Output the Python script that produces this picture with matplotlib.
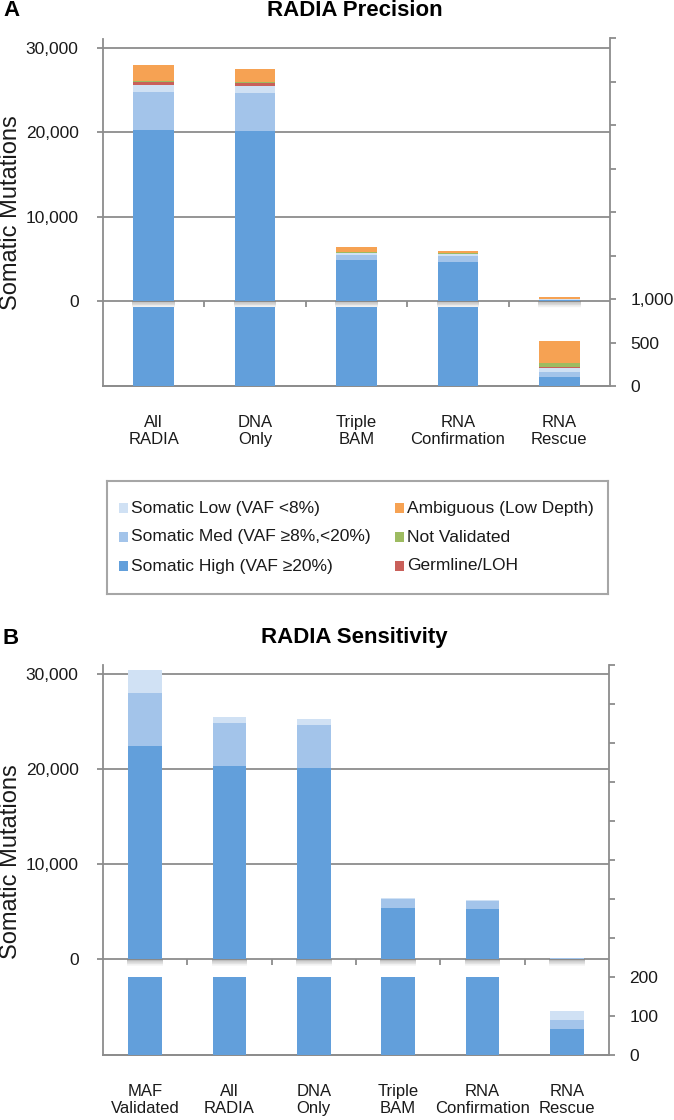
import numpy as np
import matplotlib
matplotlib.use('Agg')
import matplotlib.pyplot as plt
from matplotlib.patches import Rectangle

plt.rcParams['font.family'] = ['Liberation Sans', 'DejaVu Sans']

# panel A: RADIA precision (stack order bottom -> top)
cats_a = ['All\nRADIA', 'DNA\nOnly', 'Triple\nBAM', 'RNA\nConfirmation', 'RNA\nRescue']
high_a = [20250, 20170, 4820, 4650, 107]
med_a = [4550, 4430, 630, 650, 55]
low_a = [800, 860, 200, 250, 50]
germ_a = [300, 320, 40, 30, 5]
notval_a = [200, 190, 80, 70, 50]
ambig_a = [1850, 1470, 590, 270, 250]

# panel B: RADIA sensitivity
cats_b = ['MAF\nValidated', 'All\nRADIA', 'DNA\nOnly', 'Triple\nBAM', 'RNA\nConfirmation', 'RNA\nRescue']
high_b = [22500, 20350, 20200, 5400, 5330, 66]
med_b = [5550, 4500, 4480, 900, 820, 25]
low_b = [2380, 640, 670, 120, 100, 22]

legend_labels = ['Somatic Low (VAF <8%)', 'Somatic Med (VAF \u22658%,<20%)', 'Somatic High (VAF \u226520%)',
                 'Ambiguous (Low Depth)', 'Not Validated', 'Germline/LOH']

c_high = '#629FDB'
c_med = '#A3C4EA'
c_low = '#D0E1F4'
c_germ = '#C9605A'
c_notval = '#9DBB61'
c_ambig = '#F6A253'
grey = '#8C8C8C'

W, H = 674, 1120
fig = plt.figure(figsize=(W / 100, H / 100), dpi=100)


def px_rect(l, t, r, b):
    return [l / W, 1 - b / H, (r - l) / W, (b - t) / H]


def draw_panel(rect, cats, layers, colors, left_lim, right_max, right_step, n_labeled, clip_top):
    ax = fig.add_axes(rect)
    ax2 = ax.twinx()
    n = len(cats)
    x = np.arange(n)
    w = 0.4
    ax.set_xlim(-0.5, n - 0.5)
    ax.set_ylim(*left_lim)
    ax2.set_ylim(0, right_max)

    clip = Rectangle((-1, 0), n + 2, clip_top, transform=ax2.transData)
    bottom = np.zeros(n)
    for vals, c in zip(layers, colors):
        vals = np.array(vals, dtype=float)
        ax.bar(x, vals, w, bottom=bottom, color=c, linewidth=0, zorder=3)
        lower = ax2.bar(x, vals, w, bottom=bottom, color=c, linewidth=0, zorder=3)
        for p in lower:
            p.set_clip_path(clip)
        bottom += vals

    # soft shadow under the upper bars, just below the zero line
    zr = right_max * (-left_lim[0]) / (left_lim[1] - left_lim[0])
    ax_h = rect[3] * H
    sh = 7.0 / ax_h * right_max
    steps = 10
    for i in range(steps):
        a = 0.6 * (1 - i / steps) ** 1.4
        ax2.bar(x, sh / steps, w + 0.02, bottom=zr - (i + 1) * sh / steps,
                color='0.5', alpha=a, linewidth=0, zorder=2)

    # left axis
    lt = [0, 10000, 20000, 30000]
    ax.set_yticks(lt, [f'{v:,}' for v in lt])
    ax.yaxis.grid(True, color=grey, lw=1.3)
    ax.set_axisbelow(True)
    ax.tick_params(axis='y', direction='out', length=4.5, width=1.3, color=grey,
                   pad=13, labelsize=12.5, labelcolor='#1a1a1a')
    ax.set_xticks(x, cats)
    ax.tick_params(axis='x', length=0, pad=21, labelsize=12, labelcolor='#1a1a1a')
    for t in ax.get_xticklabels():
        t.set_linespacing(1.12)
    for s in ['top', 'right']:
        ax.spines[s].set_visible(False)
    for s in ['left', 'bottom']:
        ax.spines[s].set_color(grey)
        ax.spines[s].set_linewidth(1.3)

    # category separators on the zero line
    ax.plot(np.arange(0.5, n - 1), np.zeros(n - 1), ls='none', marker=3, ms=4.5,
            mew=1.3, color=grey, zorder=4)

    # right axis
    rt = np.arange(0, right_max + 1, right_step)
    ax2.set_yticks(rt, [f'{v:,}' if i < n_labeled else '' for i, v in enumerate(rt)])
    ax2.tick_params(axis='y', direction='out', length=4.5, width=1.3, color=grey,
                    pad=10, labelsize=12.5, labelcolor='#1a1a1a')
    for s in ['top', 'left']:
        ax2.spines[s].set_visible(False)
    for s in ['right', 'bottom']:
        ax2.spines[s].set_color(grey)
        ax2.spines[s].set_linewidth(1.3)
    return ax, ax2


colors_all = [c_high, c_med, c_low, c_germ, c_notval, c_ambig]
draw_panel(px_rect(103, 38.5, 610, 386), cats_a,
           [high_a, med_a, low_a, germ_a, notval_a, ambig_a], colors_all,
           (-10070, 31110), 4000, 500, 3, 905)
draw_panel(px_rect(103, 665, 609, 1055), cats_b,
           [high_b, med_b, low_b], colors_all[:3],
           (-10080, 31000), 1000, 100, 3, 200)

# titles, panel letters, y labels
fig.text(355 / W, 1 - 11 / H, 'RADIA Precision', ha='center', va='center',
         fontsize=16, fontweight='bold')
fig.text(3 / W, 1 - 11 / H, 'A', ha='left', va='center', fontsize=16, fontweight='bold')
fig.text(354 / W, 1 - 637 / H, 'RADIA Sensitivity', ha='center', va='center',
         fontsize=16, fontweight='bold')
fig.text(3 / W, 1 - 638 / H, 'B', ha='left', va='center', fontsize=16, fontweight='bold')
fig.text(11 / W, 1 - 213 / H, 'Somatic Mutations', rotation=90, ha='center', va='center',
         fontsize=17, color='#1a1a1a')
fig.text(11 / W, 1 - 862 / H, 'Somatic Mutations', rotation=90, ha='center', va='center',
         fontsize=17, color='#1a1a1a')

# legend box
lax = fig.add_axes(px_rect(107, 481, 608, 594))
lax.set_xlim(0, 501)
lax.set_ylim(113, 0)
lax.set_xticks([])
lax.set_yticks([])
for s in lax.spines.values():
    s.set_color('#A6A6A6')
    s.set_linewidth(1.5)
leg_colors = [c_low, c_med, c_high, c_ambig, c_notval, c_germ]
for i, (lab, c) in enumerate(zip(legend_labels, leg_colors)):
    col, row = divmod(i, 3)
    x0 = 12 + col * 276
    y0 = 27 + row * 29
    lax.add_patch(Rectangle((x0, y0 - 5), 9, 10, color=c, linewidth=0))
    lax.text(x0 + 12, y0, lab, ha='left', va='center', fontsize=12.5, color='#1a1a1a')

fig.savefig('out.png', dpi=100)
